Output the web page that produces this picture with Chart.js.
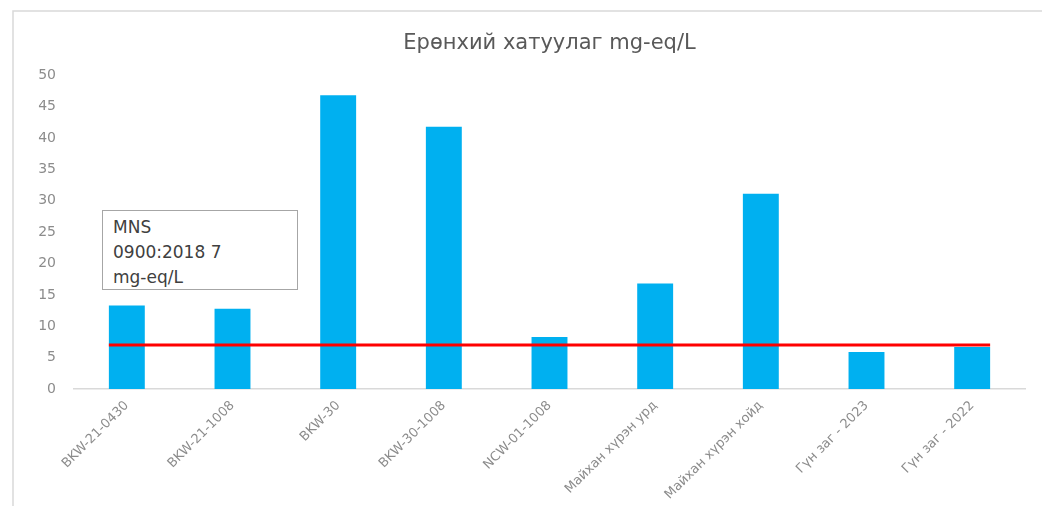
<!DOCTYPE html>
<html>
<head>
<meta charset="utf-8">
<script src="https://cdn.jsdelivr.net/npm/chart.js@4"></script>
<style>
  html, body { margin: 0; padding: 0; background: #fff; }
  #wrap { position: relative; width: 1042px; height: 506px; }
  #note {
    position: absolute; left: 102px; top: 210px; width: 196px; height: 80px;
    border: 1.5px solid #a6a6a6; box-sizing: border-box; background: #fff;
    font-family: "DejaVu Sans", sans-serif; font-size: 17px; line-height: 25px;
    color: #404040; padding: 4px 0 0 10px; white-space: nowrap;
  }
</style>
</head>
<body>
<div id="wrap">
  <canvas id="myChart" width="1042" height="506"></canvas>
  <div id="note">MNS<br>0900:2018 7<br>mg-eq/L</div>
</div>
<script>
let labels = ['BKW-21-0430', 'BKW-21-1008', 'BKW-30', 'BKW-30-1008', 'NCW-01-1008',
              'Майхан хүрэн урд', 'Майхан хүрэн хойд', 'Гүн заг - 2023', 'Гүн заг - 2022'];
let hardness = [13.3, 12.8, 46.8, 41.8, 8.3, 16.8, 31.1, 5.9, 6.7];
let limit = 7;   // MNS 0900:2018
let yTicks = [0, 5, 10, 15, 20, 25, 30, 35, 40, 45, 50];

// frame of the chart box (left + top only)
const frame = {
  id: 'frame',
  beforeDraw(chart) {
    let c = chart.ctx;
    c.save();
    c.strokeStyle = '#d9d9d9';
    c.lineWidth = 1.5;
    c.beginPath();
    c.moveTo(13, 506);
    c.lineTo(13, 11);
    c.lineTo(1042, 11);
    c.stroke();
    c.restore();
  }
};

// red limit line from first bar's left edge to last bar's right edge
const limitLine = {
  id: 'limitLine',
  afterDatasetsDraw(chart) {
    let bars = chart.getDatasetMeta(0).data;
    let first = bars[0], last = bars[bars.length - 1];
    let y = chart.scales.y.getPixelForValue(limit);
    let c = chart.ctx;
    c.save();
    c.strokeStyle = '#ff0000';
    c.lineWidth = 3;
    c.beginPath();
    c.moveTo(first.x - first.width / 2, y);
    c.lineTo(last.x + last.width / 2, y);
    c.stroke();
    c.restore();
  }
};

const ctx = document.getElementById('myChart');
new Chart(ctx, {
  type: 'bar',
  data: {
    labels: labels,
    datasets: [{
      label: 'Ерөнхий хатуулаг',
      data: hardness,
      backgroundColor: '#00b0f0',
      barPercentage: 0.34,
      categoryPercentage: 1
    }]
  },
  options: {
    responsive: false,
    animation: false,
    layout: { padding: { left: 20, right: 17, top: 0, bottom: 0 } },
    plugins: {
      legend: { display: false },
      tooltip: { enabled: false },
      title: {
        display: true,
        fullSize: false,   // centre over the plot area, not the whole canvas
        text: 'Ерөнхий хатуулаг mg-eq/L',
        color: '#595959',
        font: { family: 'DejaVu Sans', size: 21, weight: 'normal' },
        padding: { top: 31, bottom: 19 }
      }
    },
    scales: {
      y: {
        min: 0, max: 50,
        afterBuildTicks(s) { s.ticks = yTicks.map(v => ({ value: v })); },
        afterFit(s) { s.width = 54; },
        grid: { display: false, drawTicks: false },
        border: { display: false },
        ticks: { color: '#8c8c8c', font: { family: 'DejaVu Sans', size: 14 }, padding: 18 }
      },
      x: {
        afterFit(s) { s.height = 117; },
        grid: { display: false },
        border: { color: '#d9d9d9', width: 1.5 },
        ticks: {
          color: '#8c8c8c', font: { family: 'DejaVu Sans', size: 13 },
          minRotation: 45, maxRotation: 45, padding: 1
        }
      }
    }
  },
  plugins: [frame, limitLine]
});
</script>
</body>
</html>
